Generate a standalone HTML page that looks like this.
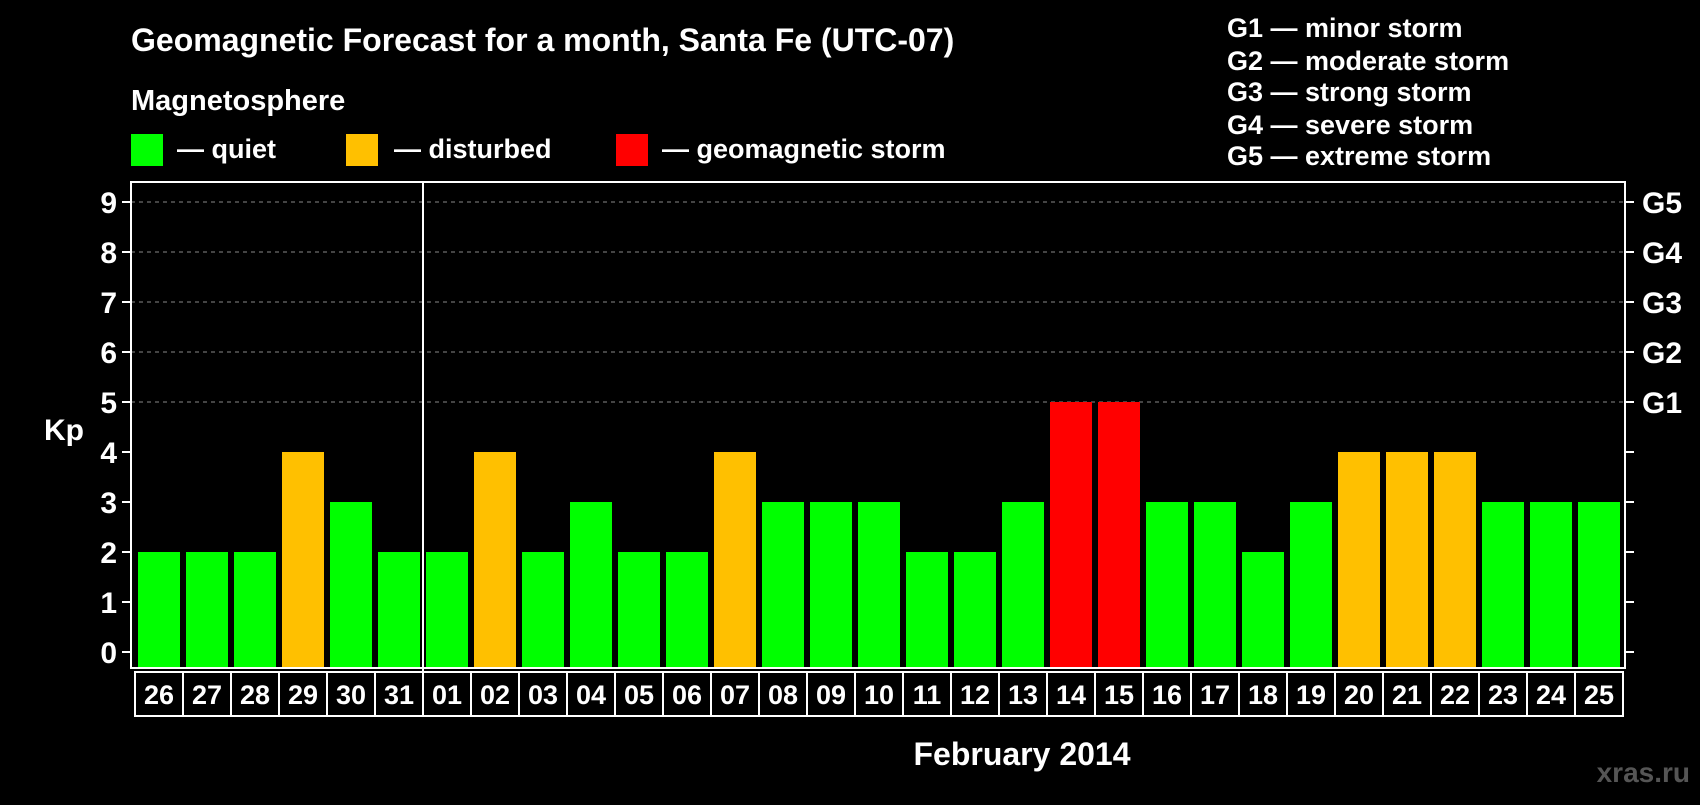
<!DOCTYPE html>
<html><head><meta charset="utf-8">
<style>
body{margin:0;background:#000;width:1700px;height:800px;overflow:hidden;font-family:"Liberation Sans",sans-serif;}
svg text{font-family:"Liberation Sans",sans-serif;font-weight:bold;fill:#fff;}
</style></head><body>
<svg id="chart" width="1700" height="800">
<text x="131" y="51" font-size="32">Geomagnetic Forecast for a month, Santa Fe (UTC-07)</text>
<text x="131" y="110" font-size="29">Magnetosphere</text>
<rect x="131" y="134" width="32" height="32" fill="#00ff00"/>
<text x="177" y="158" font-size="27">— quiet</text>
<rect x="346" y="134" width="32" height="32" fill="#ffc000"/>
<text x="394" y="158" font-size="27">— disturbed</text>
<rect x="616" y="134" width="32" height="32" fill="#ff0000"/>
<text x="662" y="158" font-size="27">— geomagnetic storm</text>
<g font-size="27">
<text x="1227" y="37">G1 — minor storm</text>
<text x="1227" y="70">G2 — moderate storm</text>
<text x="1227" y="101">G3 — strong storm</text>
<text x="1227" y="134">G4 — severe storm</text>
<text x="1227" y="165">G5 — extreme storm</text>
</g>
<text x="64" y="440" font-size="30" text-anchor="middle">Kp</text>
<text x="1022" y="765" font-size="32" text-anchor="middle">February 2014</text>
<text x="1690" y="782" font-size="28" text-anchor="end" style="fill:#555">xras.ru</text>
<g id="plot"></g>
</svg>
<script>
const dates=["26","27","28","29","30","31","01","02","03","04","05","06","07","08","09","10","11","12","13","14","15","16","17","18","19","20","21","22","23","24","25"];
const kpValues=[2,2,2,4,3,2,2,4,2,3,2,2,4,3,3,3,2,2,3,5,5,3,3,2,3,4,4,4,3,3,3];
const yTicks=[0,1,2,3,4,5,6,7,8,9];
const gLabels=["G1","G2","G3","G4","G5"];
const gLevels=[5,6,7,8,9];
const ns="http://www.w3.org/2000/svg";
const plot=document.getElementById('plot');
const L=131,R=1625,T=182,B=668,slot=48,x0=138,bw=42;
const y0=652,y9=202;
const y=v=>y0-v*((y0-y9)/9);
const x=i=>x0+i*slot;
function mk(tag,attrs){const e=document.createElementNS(ns,tag);for(const k in attrs)e.setAttribute(k,attrs[k]);plot.appendChild(e);return e;}
yTicks.forEach(v=>{
  if(v>=5&&v<=9){const g=mk('line',{x1:L,x2:R,y1:y(v),y2:y(v),stroke:'#888','stroke-dasharray':'4,4','stroke-width':1});
  
  }
  const t=mk('line',{x1:L-9,x2:L,y1:y(v),y2:y(v),stroke:'#fff','stroke-width':2});
  
  
  const t2=mk('line',{x1:R,x2:R+9,y1:y(v),y2:y(v),stroke:'#fff','stroke-width':2});
  
  
  const lb=mk('text',{x:117,y:y(v)+11,'font-size':30,'text-anchor':'end'});lb.textContent=v;
  
  
});
gLabels.forEach((g,i)=>{const lb=mk('text',{x:1642,y:y(gLevels[i])+11,'font-size':30});lb.textContent=g;
  
  });
kpValues.forEach((v,i)=>{
  const c=v>=5?'#ff0000':v>=4?'#ffc000':'#00ff00';
  const r=mk('rect',{x:x(i),y:y(v),width:bw,height:B-y(v),fill:c});
  
  
  const bx=mk('rect',{x:135+i*slot,y:672,width:slot,height:44,fill:'none',stroke:'#fff','stroke-width':2});
  
  
  const t=mk('text',{x:x(i)+bw/2,y:704,'font-size':27,'text-anchor':'middle'});t.textContent=dates[i];
  
  
});
const fr=mk('rect',{x:L,y:T,width:R-L,height:B-T,fill:'none',stroke:'#fff','stroke-width':2});


const mi=dates.indexOf("01");
const dv=mk('line',{x1:x(mi)-3,x2:x(mi)-3,y1:T,y2:716,stroke:'#fff','stroke-width':2});


</script>
</body></html>
